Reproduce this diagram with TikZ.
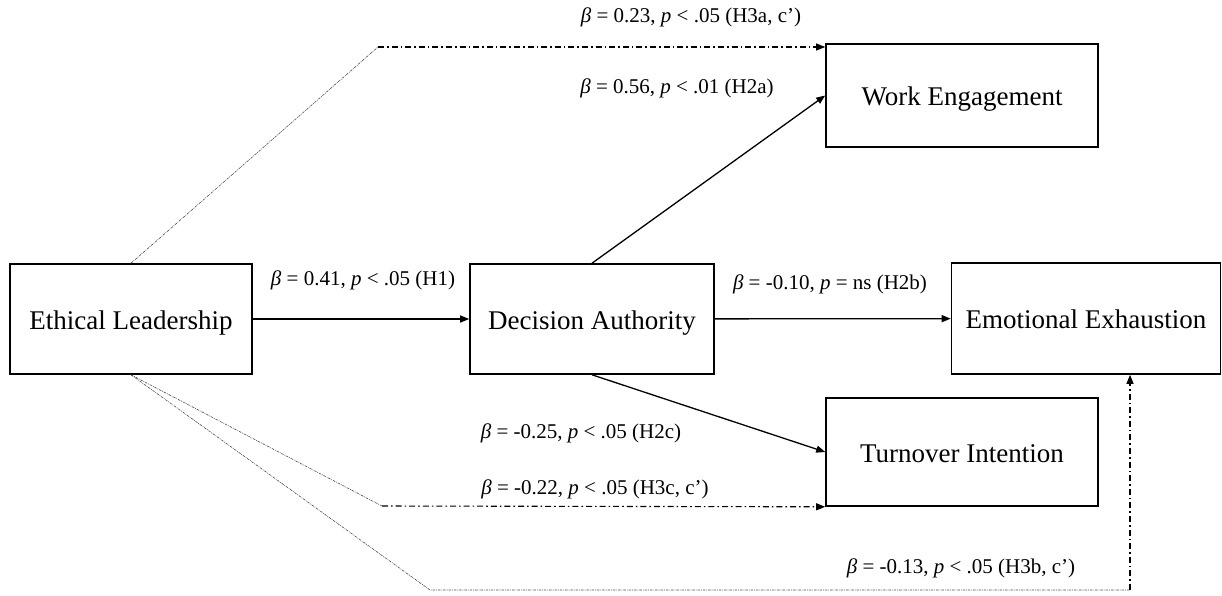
\documentclass[tikz,border=0pt]{standalone}
\usepackage{fontspec}
\setmainfont{Liberation Serif}
\usetikzlibrary{arrows.meta,calc}
\tikzset{
  box/.style={draw, line width=1.6pt, rectangle, inner sep=0pt, text height=20pt, text depth=0pt, font=\fontsize{27}{31}\selectfont},
  lbl/.style={inner sep=0pt, font=\fontsize{21}{25}\selectfont},
  arr/.style={line width=1.3pt, -{Triangle[length=9pt,width=7pt]}},
  fine/.style={line width=0.6pt, black!70, dash pattern=on 2.5pt off 1pt on 0.8pt off 1pt},
  dashdot/.style={line width=1.1pt, dash pattern=on 6pt off 3pt on 1.6pt off 3pt, -{Triangle[length=9pt,width=7pt]}},
}
\newcommand{\lab}[3]{\textit{β} = #1, \textit{p} #2 (#3)}
\begin{document}
\begin{tikzpicture}[x=1pt,y=-1pt]
\useasboundingbox (0,0) rectangle (1222,595);
% boxes
\node[box, minimum width=242pt, minimum height=110pt] (EL) at (131,319) {Ethical Leadership};
\node[box, minimum width=244pt, minimum height=110pt] (DA) at (592,319) {Decision Authority};
\node[box, minimum width=272pt, minimum height=103pt] (WE) at (962,95.5) {Work Engagement};
\node[box, minimum width=269pt, minimum height=111pt] (EE) at (1086,318.5) {Emotional Exhaustion};
\node[box, minimum width=272pt, minimum height=108pt] (TI) at (962,452) {Turnover Intention};
% solid paths
\draw[arr] (EL) -- (DA);
\draw[arr] (DA) -- (EE);
\draw[arr] (DA.north) -- (WE.west);
\draw[arr] (DA.south) -- (TI.west);
% indirect paths
\coordinate (a1) at (378,47);
\coordinate (c1) at (382,506);
\coordinate (b1) at (430,590);
\coordinate (b2) at (1130,590);
\draw[fine] (EL.north) -- (a1);
\draw[dashdot] (a1) -- (a1 -| WE.west);
\draw[fine] (EL.south) -- (c1);
\draw[dashdot] (c1) -- (TI.south west);
\draw[fine] (EL.south) -- (b1) -- (b2);
\draw[dashdot] (b2) -- (b2 |- EE.south);
% labels
\node[lbl] (l3a) at (691,17) {\lab{0.23}{<~.05}{H3a, c’}};
\node[lbl] (l2a) at (677,88) {\lab{0.56}{<~.01}{H2a}};
\node[lbl] (l1) at (363,280) {\lab{0.41}{<~.05}{H1}};
\node[lbl] (l2b) at (830,284) {\lab{-0.10}{=~ns}{H2b}};
\node[lbl] (l2c) at (581,433) {\lab{-0.25}{<~.05}{H2c}};
\node[lbl] (l3c) at (595,489) {\lab{-0.22}{<~.05}{H3c, c’}};
\node[lbl] (l3b) at (961,568) {\lab{-0.13}{<~.05}{H3b, c’}};
\end{tikzpicture}
\end{document}
